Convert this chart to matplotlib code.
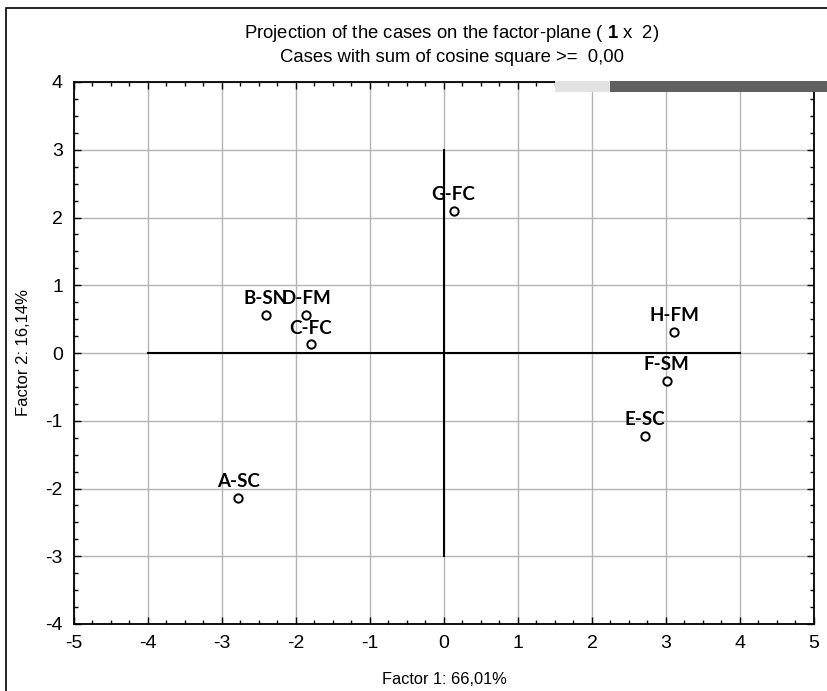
import matplotlib
matplotlib.use("Agg")
import matplotlib.pyplot as plt
from matplotlib.patches import Rectangle
from matplotlib.ticker import MultipleLocator

plt.rcParams["axes.unicode_minus"] = False
plt.rcParams["mathtext.fontset"] = "custom"
plt.rcParams["mathtext.rm"] = "Liberation Sans"
plt.rcParams["mathtext.bf"] = "Liberation Sans:bold"

case_labels = ["A-SC", "B-SN", "C-FC", "D-FM", "E-SC", "F-SM", "G-FC", "H-FM"]
factor1 = [-2.78, -2.41, -1.80, -1.86, 2.72, 3.01, 0.13, 3.11]
factor2 = [-2.14, 0.56, 0.13, 0.56, -1.22, -0.41, 2.10, 0.31]
x_ticks = [-5, -4, -3, -2, -1, 0, 1, 2, 3, 4, 5]
y_ticks = [-4, -3, -2, -1, 0, 1, 2, 3, 4]

sans = "Liberation Sans"

fig = plt.figure(figsize=(8.28, 6.91), dpi=100)
ax = fig.add_axes([74/828, 1-624/691, (814-74)/828, (624-82)/691])
ax.set_xlim(-5, 5)
ax.set_ylim(-4, 4)
ax.set_xticks(x_ticks)
ax.set_yticks(y_ticks)
ax.set_xticklabels([str(v) for v in x_ticks])
ax.set_yticklabels([str(v) for v in y_ticks])
ax.xaxis.set_minor_locator(MultipleLocator(0.25))
ax.yaxis.set_minor_locator(MultipleLocator(0.25))
ax.tick_params(which="both", direction="in", top=True, right=True, width=1, color="black")
ax.tick_params(which="major", length=5, labelsize=14, pad=8)
ax.tick_params(which="minor", length=3)
for lab in ax.get_xticklabels() + ax.get_yticklabels():
    lab.set_family(sans)
ax.grid(True, which="major", color="#b4b4b4", linewidth=1)
ax.set_axisbelow(True)
for s in ax.spines.values():
    s.set_linewidth(1.3)
    s.set_color("black")

ax.plot([-4, 4], [0, 0], color="black", lw=1.5, zorder=2)
ax.plot([0, 0], [-3, 3], color="black", lw=1.5, zorder=2)

ax.scatter(factor1, factor2, s=36, facecolors="white", edgecolors="black", linewidths=1.4, zorder=3)
for lab, x, y in zip(case_labels, factor1, factor2):
    ax.annotate(lab, (x, y), xytext=(0, 5.5), textcoords="offset points",
                ha="center", va="bottom", fontsize=13.5, family="Lato", weight="bold", zorder=4)

ax.set_xlabel("Factor 1: 66,01%", family=sans, fontsize=11.8, labelpad=14)
ax.set_ylabel("Factor 2: 16,14%", family=sans, fontsize=12)
ax.yaxis.set_label_coords((31-74)/740, 0.5)

fig.text(452/828, 1-33/691, r"Projection of the cases on the factor-plane ( $\mathbf{1}$ x  2)",
         ha="center", va="center", family=sans, fontsize=13.3)
fig.text(452/828, 1-58/691, "Cases with sum of cosine square >=  0,00",
         ha="center", va="center", family=sans, fontsize=13.3)

# figure frame
fig.patches.append(Rectangle((6/828, -0.1), 1.2, 1.1 - 8/691, transform=fig.transFigure,
                             fill=False, edgecolor="black", lw=1.2))
# gray bar at top right
fig.patches.append(Rectangle((555/828, 1-92/691), 55/828, 11/691, transform=fig.transFigure,
                             facecolor="#e2e2e2", edgecolor="none", zorder=5))
fig.patches.append(Rectangle((610/828, 1-92/691), 218/828, 11/691, transform=fig.transFigure,
                             facecolor="#606060", edgecolor="none", zorder=5))

fig.savefig("out.png", dpi=100)
